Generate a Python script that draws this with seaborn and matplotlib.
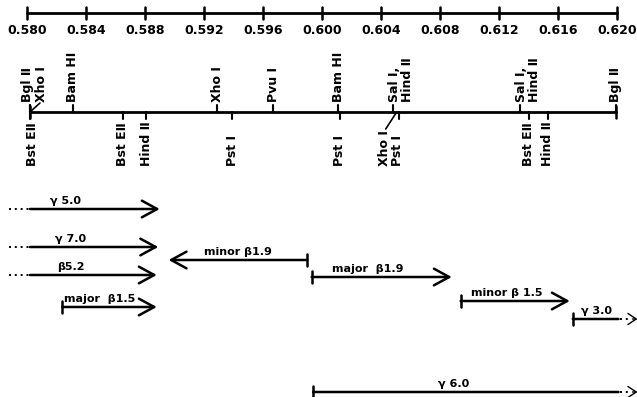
import matplotlib
matplotlib.use("Agg")
import matplotlib.pyplot as plt
import seaborn as sns

# scale (map units)
scale_ticks = [0.580, 0.584, 0.588, 0.592, 0.596, 0.600, 0.604, 0.608, 0.612, 0.616, 0.620]

# restriction sites above / below the map line
sites_above = ["Bgl Ⅱ", "Xho I", "Bam HI", "Xho I", "Pvu I", "Bam HI", "Sal I,\nHind Ⅱ", "Sal I,\nHind Ⅱ", "Bgl Ⅱ"]
pos_above = [0.5802, 0.5802, 0.5831, 0.5929, 0.5967, 0.6011, 0.6048, 0.6134, 0.6199]
sites_below = ["Bst EⅡ", "Bst EⅡ", "Hind Ⅱ", "Pst I", "Pst I", "Xho I\nPst I", "Bst EⅡ", "Hind Ⅱ"]
pos_below = [0.5802, 0.5865, 0.5881, 0.5939, 0.6012, 0.6052, 0.6140, 0.6153]
map_start, map_end = 0.5802, 0.6199

# transcripts
tr_labels = ["γ 5.0", "γ 7.0", "β5.2", "major  β1.5", "minor β1.9", "major  β1.9", "minor β 1.5", "γ 3.0", "γ 6.0"]
tr_start = [0.5802, 0.5802, 0.5802, 0.5824, 0.5990, 0.5993, 0.6094, 0.6170, 0.5994]
tr_end = [0.5890, 0.5889, 0.5888, 0.5888, 0.5896, 0.6088, 0.6168, 0.6201, 0.6201]
tr_label_x = [0.58258, 0.58298, 0.58298, 0.58495, 0.59431, 0.60312, 0.61254, 0.61864, 0.60895]
tr_bar = [False, False, False, True, True, True, True, True, True]
tr_dots_left = [True, True, True, False, False, False, False, False, False]
tr_dots_right = [False, False, False, False, False, False, False, True, True]

# layout (pixel rows, figure is 637x397)
rows = [209, 247, 275, 307, 260, 277, 301, 319, 392]
Y_SCALE, Y_MAP = 13, 112
PX = 1 / 14750.0  # map units per pixel

sns.set_theme(style="white")
plt.rcParams["font.family"] = ["DejaVu Sans"]
plt.rcParams["font.weight"] = "bold"
plt.rcParams["text.color"] = "black"

fig = plt.figure(figsize=(6.37, 3.97), dpi=100)
ax = fig.add_axes([0, 0, 1, 1])
ax.set_xlim(0.580 - 27 * PX, 0.620 + 20 * PX)
ax.set_ylim(397, 0)
ax.axis("off")

# top scale
ax.plot([scale_ticks[0], scale_ticks[-1]], [Y_SCALE, Y_SCALE], color="black", lw=2)
for t in scale_ticks:
    ax.plot([t, t], [Y_SCALE - 6, Y_SCALE + 6], color="black", lw=1.8)
    ax.text(t, 31, f"{t:.3f}", ha="center", va="center", fontsize=9, fontweight="bold")

# restriction map
ax.plot([map_start, map_end], [Y_MAP, Y_MAP], color="black", lw=2)
for p in (map_start, map_end):
    ax.plot([p, p], [Y_MAP - 6, Y_MAP + 6], color="black", lw=1.8)

above_dx = [-2, 12, 0, 0, 0, 0, 8, 8, 0]
for lab, p, dx in zip(sites_above, pos_above, above_dx):
    ax.plot([p, p], [Y_MAP - 7, Y_MAP], color="black", lw=1.5)
    ax.text(p + dx * PX, Y_MAP - 10, lab, rotation=90, ha="center", va="bottom",
            multialignment="left", fontsize=9, fontweight="bold", linespacing=1.0)
# leader for left Xho I
ax.plot([pos_above[1], pos_above[1] + 10 * PX], [Y_MAP, Y_MAP - 9], color="black", lw=1.2)

below_dx = [3, 0, 0, 0, 0, -8, 0, 0]
for lab, p, dx in zip(sites_below, pos_below, below_dx):
    ax.plot([p, p], [Y_MAP, Y_MAP + 7], color="black", lw=1.5)
    ax.text(p + dx * PX, 166, lab, rotation=90, ha="center", va="bottom",
            multialignment="left", fontsize=9, fontweight="bold", linespacing=1.0)
# leader for Xho I under Sal I
ax.plot([pos_below[5] - 2 * PX, pos_below[5] - 13 * PX], [Y_MAP, Y_MAP + 17], color="black", lw=1.2)

# transcripts
for i, lab in enumerate(tr_labels):
    y = rows[i]
    s, e = tr_start[i], tr_end[i]
    style = "-" if tr_dots_right[i] else "->,head_length=0.55,head_width=0.3"
    ax.annotate("", xy=(e, y), xytext=(s, y),
                arrowprops=dict(arrowstyle=style, lw=1.8, color="black",
                                shrinkA=0, shrinkB=0, mutation_scale=20))
    if tr_bar[i]:
        ax.plot([s, s], [y - 6, y + 6], color="black", lw=1.8)
    if tr_dots_left[i]:
        ax.plot([0.5788, s], [y, y], color="black", lw=1.4, ls=(0, (1, 2)))
    if tr_dots_right[i]:
        ax.plot([e + 2 * PX, e + 13 * PX], [y, y], color="black", lw=1.4, ls=(0, (1, 2)))
        ax.annotate("", xy=(e + 19 * PX, y), xytext=(e + 14 * PX, y),
                    arrowprops=dict(arrowstyle="->,head_length=0.3,head_width=0.2", lw=1.0,
                                    color="black", shrinkA=0, shrinkB=0, mutation_scale=20))
    ax.text(tr_label_x[i], y - 5, lab, ha="center", va="baseline", fontsize=8, fontweight="bold")

fig.savefig("out.png", dpi=100)
